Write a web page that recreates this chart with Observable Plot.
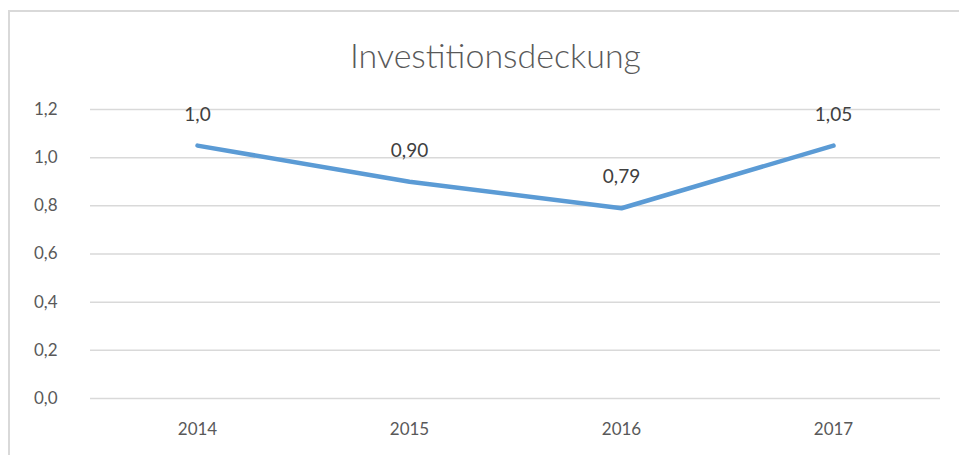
<!DOCTYPE html>
<html>
<head>
<meta charset="utf-8">
<script src="https://cdn.jsdelivr.net/npm/d3@7"></script>
<script src="https://cdn.jsdelivr.net/npm/@observablehq/plot@0.6"></script>
<style>
  html, body { margin: 0; padding: 0; background: #fff; }
  #wrap { position: relative; width: 959px; height: 455px; overflow: hidden; font-family: Lato, "Open Sans", sans-serif; }
  #frame { position: absolute; left: 8px; top: 10px; width: 960px; height: 470px; border-left: 2px solid #d9d9d9; border-top: 2px solid #d9d9d9; box-sizing: border-box; }
  #title { position: absolute; left: 16px; top: 0; width: 959px; height: 90px; text-align: center; line-height: 110px; font-size: 34px; font-weight: 300; color: #595959; }
  #chart { position: absolute; left: 0; top: 90px; }
  #chart g[aria-label*="tick label"] { font-size: 17px; }
</style>
</head>
<body>
<div id="wrap">
  <div id="frame"></div>
  <div id="title">Investitionsdeckung</div>
  <div id="chart"></div>
</div>
<script>
const years = ["2014", "2015", "2016", "2017"];
const values = [1.05, 0.90, 0.79, 1.05];
const labels = ["1,0", "0,90", "0,79", "1,05"];
const yTicks = [0, 0.2, 0.4, 0.6, 0.8, 1.0, 1.2];

const data = years.map((y, i) => ({year: y, value: values[i], label: labels[i]}));
const fmt = v => v.toFixed(1).replace(".", ",");

const chart = Plot.plot({
  width: 959,
  height: 365,
  marginTop: 19,
  marginBottom: 57,
  marginLeft: 90,
  marginRight: 19,
  style: {fontFamily: "Lato, 'Open Sans', sans-serif", fontSize: "16px", color: "#595959", background: "transparent"},
  x: {type: "point", domain: years, padding: 0.5, label: null},
  y: {domain: [0, 1.2], label: null},
  marks: [
    Plot.ruleY(yTicks, {stroke: "#d9d9d9", strokeWidth: 1.5, strokeOpacity: 1}),
    Plot.axisX({tickSize: 0, tickPadding: 24, fill: "#595959"}),
    Plot.axisY({ticks: yTicks, tickSize: 0, tickPadding: 33, tickFormat: fmt, fill: "#595959"}),
    Plot.line(data, {x: "year", y: "value", stroke: "#5b9bd5", strokeWidth: 4.5, strokeLinecap: "round", strokeLinejoin: "round"}),
    Plot.text(data, {x: "year", y: "value", text: "label", dy: -31, fontSize: 19, fill: "#404040"})
  ]
});
document.getElementById("chart").appendChild(chart);
</script>
</body>
</html>
